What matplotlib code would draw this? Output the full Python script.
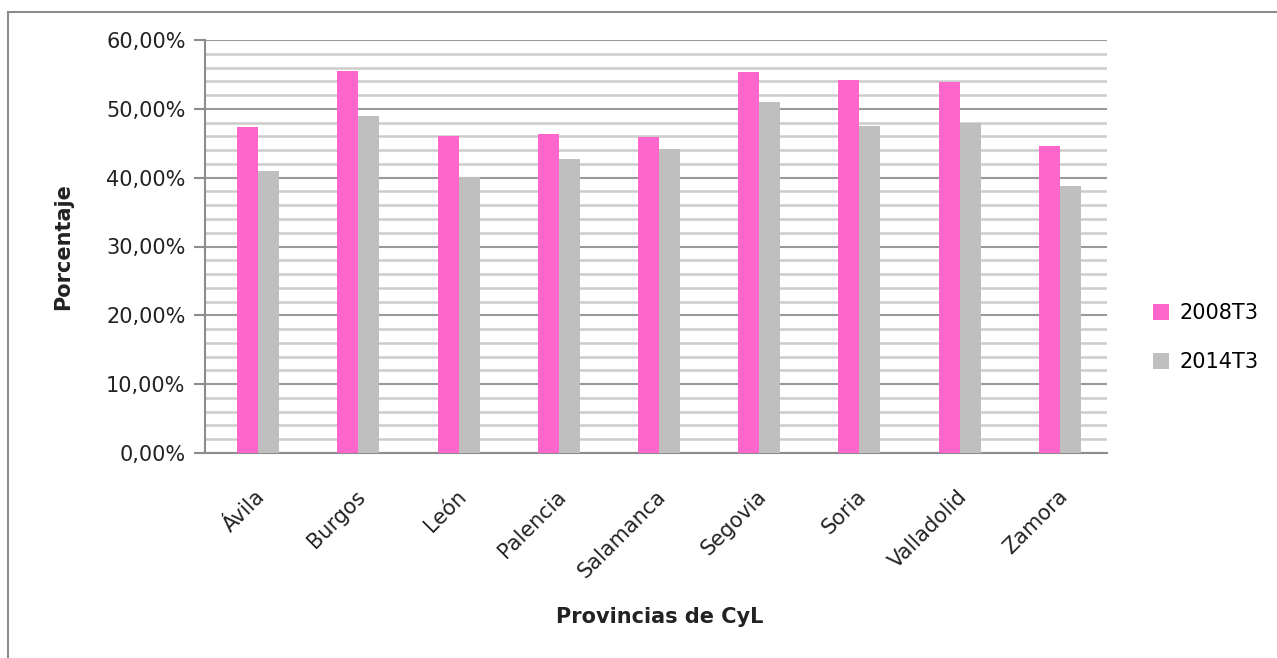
import numpy as np
import matplotlib
matplotlib.use("Agg")
import matplotlib.pyplot as plt
from matplotlib.patches import Rectangle
from matplotlib.ticker import MultipleLocator, FuncFormatter

provincias = ["Ávila", "Burgos", "León", "Palencia", "Salamanca",
              "Segovia", "Soria", "Valladolid", "Zamora"]
serie_2008 = [47.3, 55.5, 46.1, 46.4, 45.9, 55.3, 54.2, 53.9, 44.6]
serie_2014 = [41.0, 49.0, 40.1, 42.7, 44.2, 51.0, 47.5, 48.0, 38.8]
etiquetas = ["2008T3", "2014T3"]

plt.rcParams['font.family'] = ['DejaVu Sans']

fig = plt.figure(figsize=(12.77, 6.58), dpi=100)
ax = fig.add_axes([205 / 1277, 1 - 453 / 658, 902 / 1277, 413 / 658])

# borde exterior del gráfico
fig.patches.append(Rectangle((8 / 1277, -0.05), 1.2, (658 - 12) / 658 + 0.05,
                             transform=fig.transFigure, fill=False,
                             edgecolor="#8c8c8c", linewidth=1.5))

x = np.arange(len(provincias))
w = 0.21
ax.bar(x - w / 2 + 0.03, serie_2008, w, color="#ff66cc", label=etiquetas[0], zorder=3)
ax.bar(x + w / 2 + 0.03, serie_2014, w, color="#bfbfbf", label=etiquetas[1], zorder=3)

ax.set_xlim(-0.5, len(provincias) - 0.5)
ax.set_ylim(0, 60)
ax.yaxis.set_major_locator(MultipleLocator(10))
ax.yaxis.set_minor_locator(MultipleLocator(2))
ax.yaxis.set_major_formatter(FuncFormatter(lambda v, p: f"{v:.2f}%".replace(".", ",")))
ax.grid(True, which="major", axis="y", color="#9a9a9a", linewidth=1.5, zorder=0)
ax.grid(True, which="minor", axis="y", color="#cccccc", linewidth=1.8, zorder=0)

for s in ["top", "right"]:
    ax.spines[s].set_visible(False)
ax.spines["left"].set_color("#8c8c8c")
ax.spines["bottom"].set_color("#8c8c8c")
ax.spines["left"].set_linewidth(1.5)
ax.spines["bottom"].set_linewidth(1.5)

ax.tick_params(axis="y", which="major", length=8, color="#8c8c8c", width=1.5,
               labelsize=15, labelcolor="#222222", pad=6)
ax.tick_params(axis="y", which="minor", length=0)
ax.tick_params(axis="x", length=0, labelsize=15, labelcolor="#222222", pad=24)
ax.set_xticks(x)
ax.set_xticklabels(provincias, rotation=45, ha="right", rotation_mode="anchor")

ax.set_ylabel("Porcentaje", fontsize=15, fontweight="bold", color="#222222", labelpad=24)
fig.text(660 / 1277, 1 - 617 / 658, "Provincias de CyL", fontsize=15,
         fontweight="bold", color="#222222", ha="center", va="center")

ax.legend(loc="center left", bbox_to_anchor=(1.03, 0.28), frameon=False,
          fontsize=15, handlelength=0.8, handleheight=0.8, labelspacing=1.4,
          handletextpad=0.5)

plt.savefig("out.png", dpi=100)
